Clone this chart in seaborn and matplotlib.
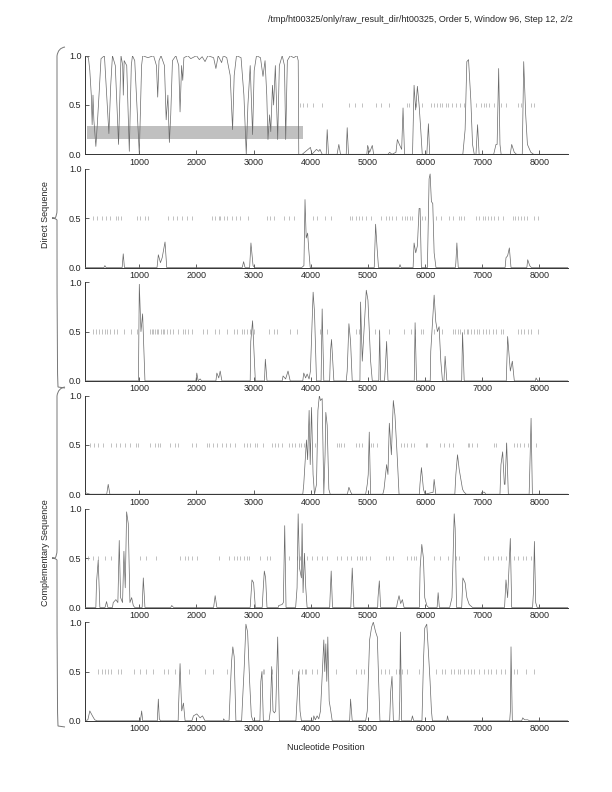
import numpy as np
import matplotlib
matplotlib.use('Agg')
import matplotlib.pyplot as plt
import seaborn as sns
from matplotlib.path import Path
from matplotlib.patches import PathPatch

# coding potential per frame (position, value)
f1_x = [50, 110, 134, 160, 175, 190, 205, 240, 265, 300, 330, 390, 420, 468, 500, 530, 580, 637, 660, 680,
        710, 720, 735, 780, 825, 860, 880, 920, 1000, 1040, 1060, 1150, 1250, 1300, 1322, 1345, 1380, 1440,
        1470, 1500, 1526, 1550, 1580, 1640, 1690, 1713, 1740, 1760, 1780, 1850, 1900, 2000, 2050, 2100, 2150,
        2200, 2300, 2340, 2380, 2440, 2470, 2530, 2590, 2632, 2660, 2700, 2780, 2830, 2871, 2900, 2940, 2982,
        3010, 3050, 3120, 3164, 3200, 3230, 3251, 3280, 3300, 3330, 3350, 3380, 3421, 3450, 3500, 3540, 3561,
        3590, 3640, 3700, 3760, 3780, 3790, 3850, 3994, 4020, 4100, 4140, 4160, 4200, 4270, 4287, 4310, 4460,
        4491, 4520, 4620, 4637, 4660, 4980, 4995, 5030, 5076, 5100, 5350, 5380, 5420, 5490, 5515, 5550, 5590,
        5614, 5640, 5780, 5807, 5835, 5865, 5895, 5924, 5950, 6030, 6058, 6080, 6660, 6700, 6730, 6760, 6800,
        6830, 6860, 6890, 6918, 6945, 7200, 7240, 7260, 7287, 7310, 7330, 7490, 7515, 7560, 7600, 7700, 7725,
        7760, 7790, 7850, 7900, 8500]
f1_y = [1.0, 0.98, 0.85, 0.6, 0.3, 0.6, 0.35, 0.08, 0.3, 0.65, 0.97, 1.0, 0.7, 0.21, 0.7, 1.0, 0.9, 0.1, 0.6, 1.0,
        0.9, 0.6, 0.95, 0.9, 0.03, 0.9, 1.0, 0.95, 0.0, 0.9, 1.0, 0.98, 1.0, 0.9, 0.58, 0.95, 1.0, 0.9,
        0.35, 0.6, 0.12, 0.4, 0.95, 1.0, 0.9, 0.43, 0.9, 0.75, 0.98, 1.0, 0.97, 1.0, 0.96, 0.99, 0.94,
        1.0, 0.98, 0.87, 1.0, 0.93, 1.0, 0.98, 0.8, 0.25, 0.8, 1.0, 0.98, 0.6, 0.0, 0.5, 0.9, 0.2,
        0.85, 1.0, 0.98, 0.79, 0.95, 0.6, 0.15, 0.4, 0.23, 0.7, 0.5, 0.9, 0.15, 0.9, 1.0, 0.9, 0.15,
        0.95, 1.0, 0.98, 1.0, 0.95, 0.0, 0.0, 0.07, 0.0, 0.05, 0.03, 0.05, 0.0, 0.0, 0.25, 0.0, 0.0,
        0.1, 0.0, 0.0, 0.27, 0.0, 0.0, 0.09, 0.02, 0.09, 0.0, 0.0, 0.02, 0.0, 0.02, 0.15, 0.1, 0.05,
        0.47, 0.0, 0.0, 0.7, 0.45, 0.69, 0.5, 0.25, 0.0, 0.0, 0.31, 0.0, 0.0, 0.25, 0.94, 0.96, 0.55,
        0.1, 0.0, 0.0, 0.3, 0.0, 0.0, 0.1, 0.1, 0.87, 0.1, 0.0, 0.0, 0.1, 0.02, 0.0, 0.0, 0.94,
        0.4, 0.1, 0.02, 0.0, 0.0]

f2_x = [50, 380, 398, 420, 700, 719, 740, 1310, 1333, 1370, 1400, 1450, 1480, 2800, 2825, 2850, 2930, 2953,
        2990, 3020, 3840, 3880, 3899, 3920, 3945, 3965, 3990, 5110, 5134, 5160, 5185, 5545, 5561, 5580, 5790,
        5807, 5836, 5865, 5895, 5912, 5935, 6040, 6070, 6088, 6110, 6134, 6158, 6190, 6530, 6538, 6556, 6580,
        7400, 7415, 7444, 7474, 7503, 7780, 7795, 7830, 7860, 8500]
f2_y = [0.0, 0.0, 0.02, 0.0, 0.0, 0.14, 0.0, 0.0, 0.13, 0.05, 0.1, 0.26, 0.0, 0.0, 0.06, 0.0, 0.0, 0.25,
        0.02, 0.0, 0.0, 0.02, 0.69, 0.3, 0.35, 0.18, 0.0, 0.0, 0.44, 0.2, 0.0, 0.0, 0.03, 0.0, 0.0,
        0.25, 0.15, 0.22, 0.6, 0.6, 0.0, 0.0, 0.9, 0.95, 0.67, 0.65, 0.15, 0.0, 0.0, 0.05, 0.25, 0.0,
        0.0, 0.1, 0.12, 0.2, 0.0, 0.0, 0.08, 0.02, 0.0, 0.0]

f3_x = [50, 985, 1000, 1029, 1058, 1099, 1990, 2006, 2030, 2064, 2090, 2340, 2357, 2390, 2415, 2445, 2940,
        2950, 2982, 3030, 3190, 3205, 3234, 3500, 3515, 3560, 3602, 3640, 3860, 3877, 3910, 3936, 3970, 3994,
        4041, 4065, 4100, 4180, 4199, 4228, 4330, 4345, 4363, 4404, 4620, 4637, 4667, 4696, 4725, 4860, 4871,
        4901, 4940, 4971, 5000, 5047, 5076, 5190, 5205, 5222, 5290, 5310, 5327, 5351, 5810, 5825, 5850, 6090,
        6099, 6158, 6187, 6216, 6245, 6275, 6304, 6330, 6350, 6380, 6640, 6655, 6684, 7420, 7444, 7491, 7526,
        7561, 7930, 7941, 7970, 8500]
f3_y = [0.0, 0.0, 0.98, 0.5, 0.68, 0.0, 0.0, 0.08, 0.0, 0.02, 0.0, 0.0, 0.08, 0.03, 0.1, 0.0, 0.0,
        0.4, 0.61, 0.0, 0.0, 0.22, 0.0, 0.0, 0.05, 0.02, 0.1, 0.0, 0.0, 0.08, 0.03, 0.07, 0.02, 0.1,
        0.9, 0.7, 0.0, 0.0, 0.73, 0.0, 0.0, 0.3, 0.42, 0.0, 0.0, 0.1, 0.58, 0.4, 0.0, 0.0, 0.8,
        0.2, 0.6, 0.92, 0.82, 0.2, 0.0, 0.0, 0.51, 0.0, 0.0, 0.2, 0.4, 0.0, 0.0, 0.59, 0.0, 0.0,
        0.3, 0.87, 0.6, 0.5, 0.55, 0.2, 0.0, 0.0, 0.25, 0.0, 0.0, 0.49, 0.0, 0.0, 0.45, 0.1, 0.2,
        0.0, 0.0, 0.03, 0.0, 0.0]

f4_x = [50, 80, 140, 430, 456, 485, 3860, 3877, 3924, 3945, 3971, 3990, 4013, 4040, 4065, 4100, 4125, 4150,
        4170, 4199, 4228, 4250, 4263, 4287, 4316, 4340, 4640, 4667, 4700, 4720, 4960, 4988, 5005, 5023, 5047,
        5260, 5281, 5327, 5350, 5374, 5410, 5444, 5473, 5515, 5544, 5900, 5910, 5936, 5971, 6000, 6140, 6158,
        6187, 6520, 6538, 6567, 6597, 6626, 6655, 6684, 6720, 6980, 6994, 7040, 7060, 7310, 7327, 7357, 7386,
        7398, 7427, 7456, 7820, 7825, 7854, 7877, 8500]
f4_y = [0.02, 0.01, 0.0, 0.0, 0.1, 0.0, 0.0, 0.1, 0.55, 0.35, 0.85, 0.3, 0.88, 0.2, 0.0, 0.1, 0.85, 1.0,
        0.95, 0.97, 0.0, 0.4, 0.83, 0.7, 0.05, 0.0, 0.0, 0.07, 0.02, 0.0, 0.0, 0.1, 0.2, 0.63, 0.0,
        0.0, 0.05, 0.3, 0.2, 0.72, 0.4, 0.95, 0.8, 0.35, 0.0, 0.0, 0.1, 0.27, 0.05, 0.0, 0.02, 0.15,
        0.0, 0.0, 0.2, 0.4, 0.25, 0.15, 0.05, 0.02, 0.0, 0.0, 0.02, 0.02, 0.0, 0.0, 0.3, 0.43, 0.1,
        0.1, 0.52, 0.0, 0.0, 0.1, 0.77, 0.0, 0.0]

f5_x = [50, 240, 251, 281, 310, 400, 427, 450, 530, 544, 590, 625, 649, 673, 707, 731, 754, 778, 807, 836,
        866, 895, 920, 1050, 1070, 1099, 1550, 1567, 1600, 2300, 2327, 2357, 2940, 2971, 3000, 3030, 3150,
        3164, 3187, 3210, 3234, 3430, 3439, 3497, 3520, 3544, 3567, 3735, 3760, 3779, 3803, 3836, 3848, 3865,
        3889, 3912, 3936, 4330, 4357, 4380, 4700, 4725, 4754, 5170, 5176, 5199, 5222, 5500, 5515, 5544, 5573,
        5602, 5632, 5900, 5913, 5942, 5971, 5994, 6030, 6060, 6210, 6228, 6250, 6430, 6470, 6480, 6509, 6526,
        6550, 6640, 6661, 6700, 6731, 6772, 6830, 7390, 7415, 7444, 7491, 7515, 7880, 7895, 7912, 7935, 7960,
        8500]
f5_y = [0.0, 0.0, 0.25, 0.48, 0.0, 0.0, 0.06, 0.0, 0.0, 0.05, 0.08, 0.05, 0.68, 0.1, 0.05, 0.57, 0.2, 0.97,
        0.85, 0.05, 0.1, 0.02, 0.0, 0.0, 0.3, 0.0, 0.0, 0.02, 0.0, 0.0, 0.12, 0.0, 0.0, 0.28, 0.25,
        0.0, 0.0, 0.15, 0.37, 0.3, 0.0, 0.0, 0.02, 0.03, 0.05, 0.83, 0.0, 0.0, 0.2, 0.95, 0.4, 0.3,
        0.85, 0.15, 0.55, 0.2, 0.0, 0.0, 0.37, 0.0, 0.0, 0.4, 0.0, 0.0, 0.1, 0.27, 0.0, 0.0, 0.05,
        0.12, 0.04, 0.08, 0.0, 0.0, 0.4, 0.64, 0.5, 0.1, 0.02, 0.0, 0.0, 0.15, 0.0, 0.0, 0.1, 0.3,
        0.95, 0.8, 0.0, 0.0, 0.3, 0.25, 0.1, 0.03, 0.0, 0.0, 0.28, 0.1, 0.7, 0.0, 0.0, 0.15, 0.67,
        0.05, 0.0, 0.0]

f6_x = [50, 100, 134, 180, 220, 260, 1020, 1041, 1060, 1315, 1333, 1350, 1370, 1680, 1684, 1713, 1742, 1772,
        1801, 1920, 1947, 2006, 2064, 2105, 2150, 2470, 2474, 2500, 2570, 2591, 2614, 2636, 2660, 2690, 2790,
        2806, 2836, 2865, 2895, 2930, 2960, 2990, 3110, 3126, 3146, 3170, 3270, 3292, 3316, 3339, 3363, 3386,
        3421, 3450, 3740, 3772, 3789, 3812, 3836, 4040, 4053, 4080, 4111, 4140, 4170, 4199, 4228, 4245, 4263,
        4280, 4298, 4322, 4345, 4375, 4680, 4696, 4725, 4960, 4988, 5029, 5064, 5094, 5135, 5164, 5193, 5210,
        5380, 5398, 5421, 5445, 5545, 5556, 5568, 5590, 5760, 5778, 5800, 5945, 5971, 5994, 6029, 6058, 6087,
        6111, 6128, 6380, 6392, 6410, 7480, 7492, 7503, 7526, 7690, 7708, 7740, 7795, 7830, 8500]
f6_y = [0.0, 0.01, 0.1, 0.05, 0.01, 0.0, 0.0, 0.1, 0.0, 0.0, 0.22, 0.02, 0.0, 0.0, 0.1, 0.58, 0.1, 0.18,
        0.0, 0.0, 0.05, 0.07, 0.03, 0.05, 0.0, 0.0, 0.02, 0.0, 0.0, 0.3, 0.6, 0.75, 0.65, 0.0, 0.0,
        0.2, 0.55, 0.98, 0.9, 0.4, 0.05, 0.0, 0.0, 0.4, 0.5, 0.0, 0.0, 0.1, 0.55, 0.1, 0.08, 0.1,
        0.85, 0.0, 0.0, 0.35, 0.5, 0.1, 0.0, 0.0, 0.05, 0.01, 0.05, 0.02, 0.1, 0.45, 0.82, 0.5, 0.78,
        0.4, 0.85, 0.2, 0.12, 0.0, 0.0, 0.22, 0.0, 0.0, 0.1, 0.82, 0.95, 1.0, 0.9, 0.85, 0.3, 0.0,
        0.0, 0.3, 0.45, 0.0, 0.0, 0.2, 0.9, 0.0, 0.0, 0.05, 0.0, 0.0, 0.6, 0.94, 0.98, 0.7, 0.4,
        0.1, 0.0, 0.0, 0.05, 0.0, 0.0, 0.1, 0.75, 0.0, 0.0, 0.03, 0.01, 0.01, 0.0, 0.0]

# stop codon positions per frame
s1 = [3819, 3936, 3865, 4041, 4199, 4667, 4766, 4901, 5135, 5222, 5368, 5690, 5719, 5836, 5942, 6099, 6158,
      6216, 6263, 6304, 6362, 6403, 6462, 6538, 6614, 6684, 6889, 6977, 7023, 7064, 7123, 7211, 7327, 7415,
      7620, 7678, 7854, 7912]
s2 = [193, 263, 339, 415, 485, 591, 632, 673, 953, 1012, 1099, 1158, 1509, 1585, 1667, 1743, 1830, 1918,
      2269, 2327, 2386, 2415, 2474, 2532, 2620, 2696, 2766, 2895, 3234, 3292, 3351, 3526, 3614, 3702, 4041,
      4111, 4257, 4345, 4684, 4725, 4784, 4842, 4901, 4959, 5047, 5222, 5310, 5368, 5427, 5485, 5602, 5643,
      5690, 5737, 5778, 5953, 5994, 6187, 6275, 6421, 6480, 6597, 6626, 6684, 6889, 6936, 7006, 7053, 7094,
      7152, 7199, 7269, 7357, 7532, 7579, 7620, 7678, 7725, 7783, 7912, 7971]
s3 = [193, 251, 298, 339, 398, 439, 485, 556, 602, 731, 848, 953, 1187, 1216, 1246, 1275, 1304, 1333, 1374,
      1409, 1433, 1480, 1538, 1596, 1684, 1760, 1801, 1860, 1918, 2123, 2181, 2327, 2386, 2532, 2649, 2708,
      2795, 2836, 2883, 2930, 3000, 3263, 3351, 3409, 3643, 3760, 4170, 4275, 4784, 4842, 5117, 5193, 5368,
      5632, 5749, 5819, 5924, 5971, 6158, 6304, 6480, 6526, 6567, 6614, 6684, 6731, 6754, 6801, 6848, 6901,
      6947, 7006, 7064, 7123, 7181, 7240, 7327, 7357, 7620, 7678, 7737, 7795, 7854, 7982]
s4 = [134, 205, 281, 368, 497, 591, 661, 749, 836, 942, 982, 1187, 1275, 1333, 1363, 1538, 1626, 1684, 1918,
      1994, 2181, 2211, 2287, 2357, 2444, 2520, 2591, 2678, 2825, 2883, 2942, 3018, 3058, 3164, 3322, 3380,
      3421, 3497, 3614, 3673, 3731, 3789, 3830, 3877, 3994, 4082, 4462, 4491, 4532, 4579, 4784, 4842, 4901,
      5047, 5094, 5164, 5573, 5632, 5690, 5749, 5807, 6012, 6041, 6263, 6322, 6421, 6480, 6743, 6772, 6813,
      6906, 7211, 7240, 7415, 7561, 7608, 7667, 7725, 7795, 7942]
s5 = [105, 193, 281, 398, 497, 1012, 1117, 1292, 1713, 1801, 1860, 1918, 2006, 2386, 2561, 2649, 2708, 2766,
      2825, 2883, 2912, 3117, 3234, 3292, 3614, 3760, 3819, 3936, 4023, 4111, 4199, 4287, 4450, 4520, 4626,
      4696, 4813, 4860, 4901, 4959, 5035, 5310, 5368, 5439, 5690, 5749, 5807, 5836, 6158, 6263, 6392, 6538,
      6597, 7023, 7105, 7181, 7269, 7327, 7415, 7561, 7632, 7708, 7766, 7854]
s6 = [281, 339, 398, 456, 497, 632, 678, 912, 1012, 1117, 1246, 1433, 1509, 1626, 1877, 2152, 2298, 2532,
      3164, 3187, 3322, 3673, 3789, 3848, 3906, 3924, 4023, 4111, 4433, 4784, 4871, 4930, 5222, 5298, 5368,
      5485, 5544, 5602, 5678, 5895, 6187, 6304, 6345, 6450, 6509, 6567, 6614, 6684, 6743, 6801, 6860, 6947,
      7023, 7094, 7152, 7240, 7327, 7398, 7561, 7608, 7766, 7912]

# predicted ORF in frame 1
orf_x = [90, 3866]
orf_band = [0.152, 0.287]

xticks = [1000, 2000, 3000, 4000, 5000, 6000, 7000, 8000]
yticks = [0.0, 0.5, 1.0]
ytick_labels = ['0.0', '0.5', '1.0']

curves = [(f1_x, f1_y), (f2_x, f2_y), (f3_x, f3_y), (f4_x, f4_y), (f5_x, f5_y), (f6_x, f6_y)]
stops = [s1, s2, s3, s4, s5, s6]

sns.set_style('ticks')
plt.rcParams['font.family'] = ['Liberation Sans', 'DejaVu Sans']
fs = 6.5

W, H = 612, 792
fig = plt.figure(figsize=(W / 100, H / 100), dpi=100)

for i in range(6):
    bottom_px = 154.3 + 113.3 * i
    ax = fig.add_axes([85 / W, (H - bottom_px) / H, 483 / W, 98.6 / H])
    if i == 0:
        ax.fill_between(orf_x, orf_band[0], orf_band[1], color='#c0c0c0', lw=0, zorder=1)
    ax.vlines(stops[i], 0.478, 0.522, color='#a8a8a8', lw=0.5, zorder=2)
    sns.lineplot(x=curves[i][0], y=curves[i][1], ax=ax, color='#686868', lw=0.5,
                 estimator=None, sort=False, zorder=3)
    ax.set_xlim(50, 8500)
    ax.set_ylim(0, 1.0)
    ax.set_xticks(xticks)
    ax.set_xticklabels([str(t) for t in xticks], fontsize=fs)
    ax.set_yticks(yticks)
    ax.set_yticklabels(ytick_labels, fontsize=fs)
    ax.tick_params(direction='in', length=3, width=0.6, pad=2.5, color='#444444')
    ax.patch.set_alpha(0)
    for sp in ['top', 'right']:
        ax.spines[sp].set_visible(False)
    for sp in ['left', 'bottom']:
        ax.spines[sp].set_linewidth(0.7)
        ax.spines[sp].set_color('#333333')

fig.text(573 / W, 1 - 19 / H,
         '/tmp/ht00325/only/raw_result_dir/ht00325, Order 5, Window 96, Step 12, 2/2',
         ha='right', va='center', fontsize=fs)
fig.text(326 / W, 1 - 748 / H, 'Nucleotide Position', ha='center', va='center', fontsize=fs)
fig.text(46 / W, 1 - 215 / H, 'Direct Sequence', ha='center', va='center', rotation=90, fontsize=fs)
fig.text(46 / W, 1 - 553 / H, 'Complementary Sequence', ha='center', va='center', rotation=90, fontsize=fs)


# curly braces grouping the direct and complementary frames
def brace(top, tip, bot):
    pts = [(65, top), (58, top + 1), (57, top + 9), (57, tip - 8),
           (57, tip - 2), (55, tip), (52, tip),
           (55, tip), (57, tip + 2), (57, tip + 8),
           (57, bot - 9), (58, bot - 1), (65, bot)]
    codes = [Path.MOVETO, Path.CURVE3, Path.CURVE3, Path.LINETO,
             Path.CURVE3, Path.CURVE3, Path.LINETO,
             Path.CURVE3, Path.CURVE3, Path.LINETO,
             Path.CURVE3, Path.CURVE3, Path.LINETO]
    verts = [(x / W, 1 - y / H) for x, y in pts]
    fig.add_artist(PathPatch(Path(verts, codes), fill=False, lw=0.7, ec='#777777',
                             transform=fig.transFigure))


brace(47, 218, 388)
brace(387, 558, 727)

fig.savefig('out.png', dpi=100)
